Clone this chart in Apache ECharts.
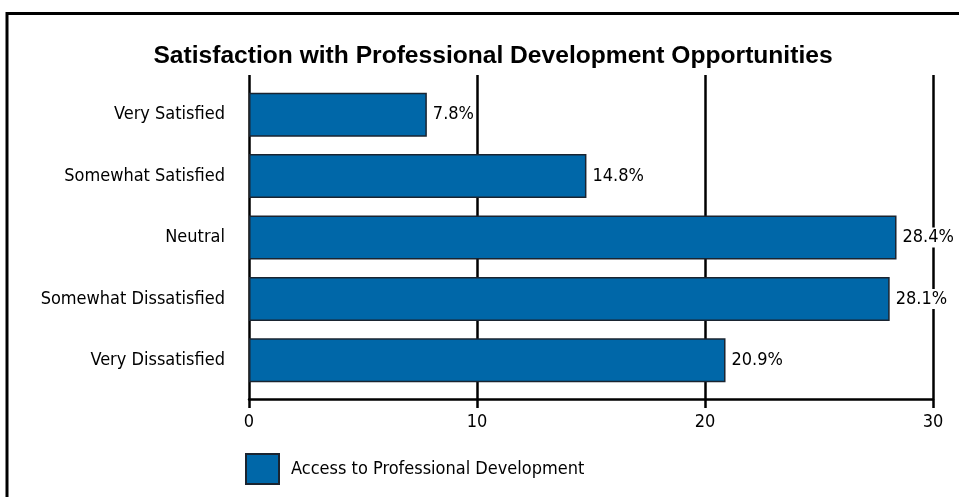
<!DOCTYPE html>
<html>
<head>
<meta charset="utf-8">
<script src="https://cdn.jsdelivr.net/npm/echarts@6/dist/echarts.min.js"></script>
<style>
  html, body { margin: 0; padding: 0; background: #fff; }
  #chart { width: 959px; height: 497px; }
</style>
</head>
<body>
<div id="chart"></div>
<script>
// Survey answers, top to bottom
const categories = ['Very Satisfied', 'Somewhat Satisfied', 'Neutral', 'Somewhat Dissatisfied', 'Very Dissatisfied'];
// Share of respondents (%)
const values = [7.8, 14.8, 28.4, 28.1, 20.9];
const seriesName = 'Access to Professional Development';
const chartTitle = 'Satisfaction with Professional Development Opportunities';
const xTicks = [0, 10, 20, 30];

const narrow = '"Liberation Sans Narrow", "Arial Narrow", "DejaVu Sans Condensed", sans-serif';

const chart = echarts.init(document.getElementById('chart'));
chart.setOption({
  animation: false,
  backgroundColor: '#fff',
  graphic: [{
    // frame around the figure (top and left edges visible)
    type: 'rect',
    shape: { x: 7, y: 13.5, width: 1000, height: 600 },
    style: { fill: 'none', stroke: '#000', lineWidth: 3 },
    silent: true
  }],
  title: {
    text: chartTitle,
    left: 488,
    textAlign: 'center',
    top: 39,
    textStyle: { fontFamily: 'Liberation Sans, Arial, sans-serif', fontWeight: 'bold', fontSize: 24.6, color: '#000' }
  },
  legend: {
    left: 240,
    top: 448,
    itemWidth: 33,
    itemHeight: 30,
    itemGap: 10,
    icon: 'rect',
    data: [seriesName],
    textStyle: { fontFamily: narrow, fontSize: 18, color: '#000', padding: [0, 0, 0, 7] }
  },
  grid: [
    { left: 249, right: 26, top: 84, bottom: 106 },
    { left: 249, right: 26, top: 75, bottom: 89 }
  ],
  xAxis: [{
    gridIndex: 0,
    type: 'value',
    min: xTicks[0],
    max: xTicks[xTicks.length - 1],
    interval: 10,
    offset: 8,
    axisLine: { show: true, onZero: false, lineStyle: { color: '#000', width: 2.5 } },
    axisTick: { show: false },
    splitLine: { show: false },
    axisLabel: { margin: 14, fontFamily: narrow, fontSize: 18, color: '#000' }
  }, {
    // vertical guide lines spanning the full plot height
    gridIndex: 1,
    type: 'value',
    min: xTicks[0],
    max: xTicks[xTicks.length - 1],
    interval: 10,
    axisLine: { show: false },
    axisTick: { show: false },
    axisLabel: { show: false },
    splitLine: { show: true, lineStyle: { color: '#000', width: 2.5 } }
  }],
  yAxis: [{
    gridIndex: 0,
    type: 'category',
    inverse: true,
    data: categories,
    axisLine: { show: false },
    axisTick: { show: false },
    axisLabel: { margin: 24, fontFamily: narrow, fontSize: 18, color: '#000' }
  }, {
    gridIndex: 1,
    type: 'category',
    data: categories,
    show: false
  }],
  series: [{
    name: seriesName,
    type: 'bar',
    xAxisIndex: 0,
    yAxisIndex: 0,
    data: values,
    barWidth: 44,
    itemStyle: { color: '#0067a8', borderColor: '#1a2430', borderWidth: 1.5 },
    label: {
      show: true,
      position: 'right',
      distance: 5,
      formatter: p => p.value.toFixed(1) + '%',
      fontFamily: narrow,
      fontSize: 18,
      color: '#000',
      backgroundColor: '#fff',
      padding: [1, 0, 1, 1]
    },
    z: 3
  }]
});
</script>
</body>
</html>
